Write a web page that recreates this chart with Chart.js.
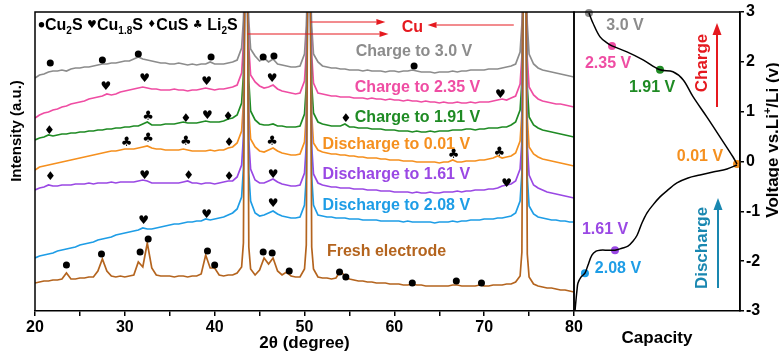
<!DOCTYPE html>
<html>
<head>
<meta charset="utf-8">
<script src="https://cdn.jsdelivr.net/npm/chart.js@4.4.1/dist/chart.umd.min.js"></script>
<style>
  html, body { margin: 0; padding: 0; background: #fff; }
  #wrap { position: relative; width: 779px; height: 356px; overflow: hidden; background: #fff; }
  #xrdChart { position: absolute; left: 0; top: 0; }
  #capChart { position: absolute; left: 564px; top: 0; }
</style>
</head>
<body>
<div id="wrap">
  <canvas id="xrdChart" width="600" height="356"></canvas>
  <canvas id="capChart" width="215" height="356"></canvas>
</div>
<script>
// ============================================================================
// Data
// ============================================================================

// 2θ sampling (degrees), shared by every XRD pattern
const twoTheta = [
    20, 20.5, 21, 21.5, 22, 22.5, 23, 23.5, 24, 24.5,
    25, 25.5, 26, 26.5, 27, 27.5, 28, 28.5, 29, 29.5,
    30, 30.5, 31, 31.5, 32, 32.5, 33, 33.5, 34, 34.5,
    35, 35.5, 36, 36.5, 37, 37.5, 38, 38.5, 39, 39.5,
    40, 40.5, 41, 41.5, 42, 42.5,
    43, 43.2, 43.35, 43.5, 43.65, 43.8,
    44, 44.5, 45, 45.5, 46, 46.5, 47, 47.5, 48, 48.5, 49, 49.5,
    50, 50.2, 50.35, 50.5, 50.65, 50.8,
    51, 51.5,
    52, 52.5, 53, 53.5, 54, 54.5, 55, 55.5, 56, 56.5,
    57, 57.5, 58, 58.5, 59, 59.5, 60, 60.5, 61, 61.5,
    62, 62.5, 63, 63.5, 64, 64.5, 65, 65.5, 66, 66.5,
    67, 67.5, 68, 68.5, 69, 69.5, 70, 70.5, 71, 71.5,
    72, 72.5, 73, 73.5,
    74, 74.2, 74.35, 74.5, 74.65, 74.8,
    75, 75.5, 76, 76.5, 77, 77.5, 78, 78.5, 79, 79.5, 80,
];

// Intensities (a.u., stacked offsets included), same order as twoTheta
const charge30V = [
    233, 236, 237, 239, 240, 240, 241, 240, 242, 243,
    243, 244, 244, 245, 246, 247, 247, 248, 248, 249,
    250, 250, 252, 254, 252, 251, 250, 249, 248, 248,
    247, 247, 248, 247, 246, 247, 246, 247, 247, 249,
    247, 247, 247, 248, 249, 251,
    263, 291, 330, 400, 330, 290,
    262, 255, 250, 253, 249, 252, 247, 246, 245, 244, 244, 245,
    257, 285, 330, 400, 330, 285,
    257, 249,
    245, 244, 243, 243, 242, 242, 241, 241, 241, 240,
    241, 240, 240, 240, 239, 240, 240, 239, 240, 240,
    241, 240, 239, 239, 239, 238, 239, 239, 239, 240,
    239, 240, 240, 241, 241, 241, 241, 242, 242, 242,
    243, 244, 245, 247,
    259, 287, 330, 400, 330, 287,
    257, 247, 243, 241, 240, 239, 238, 237, 236, 235, 234,
];
const charge235V = [
    193, 196, 198, 199, 201, 202, 204, 205, 207, 208,
    209, 210, 212, 213, 214, 215, 217, 216, 217, 219,
    220, 221, 222, 223, 224, 223, 222, 222, 221, 221,
    221, 222, 221, 221, 220, 221, 221, 222, 223, 222,
    221, 222, 222, 223, 224, 226,
    238, 266, 330, 400, 330, 264,
    236, 229, 225, 223, 224, 226, 222, 220, 219, 218, 217, 218,
    230, 258, 330, 400, 330, 256,
    228, 218,
    217, 216, 215, 215, 214, 214, 214, 213, 213, 213,
    212, 213, 212, 212, 211, 212, 211, 211, 210, 211,
    210, 210, 209, 210, 209, 209, 208, 209, 208, 208,
    209, 208, 208, 209, 208, 209, 209, 209, 210, 211,
    212, 211, 213, 215,
    227, 255, 330, 400, 330, 253,
    224, 216, 212, 210, 209, 208, 207, 207, 206, 205, 204,
];
const charge191V = [
    171, 173, 174, 176, 175, 176, 177, 177, 178, 178,
    179, 179, 180, 180, 181, 181, 182, 182, 183, 183,
    184, 184, 185, 185, 187, 189, 186, 186, 186, 187,
    187, 187, 188, 189, 188, 188, 188, 189, 190, 189,
    189, 189, 190, 192, 193, 196,
    208, 236, 330, 400, 330, 230,
    200, 191, 187, 186, 186, 187, 185, 185, 184, 184, 184, 185,
    197, 225, 330, 400, 330, 226,
    198, 189,
    187, 186, 185, 185, 185, 187, 184, 184, 183, 183,
    183, 182, 182, 182, 181, 181, 181, 180, 180, 180,
    179, 180, 179, 179, 180, 179, 180, 180, 180, 181,
    181, 181, 182, 182, 181, 182, 182, 183, 183, 183,
    184, 184, 186, 189,
    201, 229, 330, 400, 330, 224,
    194, 186, 183, 181, 180, 179, 178, 177, 176, 175, 174,
];
const discharge001V = [
    141, 144, 145, 146, 147, 148, 149, 150, 151, 152,
    153, 154, 155, 156, 157, 158, 159, 160, 160, 161,
    162, 162, 162, 163, 164, 165, 163, 162, 162, 161,
    161, 161, 161, 162, 161, 160, 160, 160, 160, 161,
    160, 161, 161, 163, 164, 168,
    180, 208, 330, 400, 330, 200,
    172, 164, 160, 159, 161, 163, 160, 158, 157, 156, 156, 157,
    169, 197, 330, 400, 330, 196,
    168, 161,
    159, 158, 157, 157, 156, 156, 155, 155, 154, 154,
    153, 153, 153, 152, 152, 151, 151, 151, 150, 150,
    150, 149, 149, 149, 149, 149, 148, 149, 149, 151,
    149, 149, 150, 150, 150, 151, 151, 152, 153, 155,
    153, 154, 155, 158,
    170, 198, 330, 400, 330, 193,
    164, 157, 154, 152, 151, 150, 149, 148, 147, 146, 145,
];
const discharge161V = [
    121, 123, 124, 126, 125, 125, 126, 126, 126, 127,
    127, 127, 128, 127, 128, 128, 128, 129, 128, 129,
    129, 129, 129, 130, 131, 130, 128, 128, 128, 128,
    128, 128, 128, 129, 130, 128, 128, 127, 128, 128,
    127, 128, 129, 130, 130, 134,
    146, 174, 330, 400, 330, 170,
    142, 131, 128, 128, 130, 132, 129, 127, 126, 125, 125, 126,
    138, 166, 330, 400, 330, 165,
    137, 128,
    126, 125, 124, 124, 123, 123, 123, 122, 122, 122,
    121, 121, 121, 120, 120, 120, 119, 119, 119, 119,
    118, 119, 118, 118, 119, 118, 118, 119, 119, 119,
    120, 119, 120, 120, 121, 121, 121, 122, 122, 123,
    125, 126, 127, 130,
    142, 170, 330, 400, 330, 166,
    136, 126, 123, 121, 119, 118, 117, 116, 115, 114, 113,
];
const discharge208V = [
    53, 55, 56, 57, 58, 60, 61, 62, 63, 64,
    66, 67, 68, 69, 71, 72, 73, 74, 76, 77,
    78, 79, 80, 81, 83, 82, 82, 83, 84, 85,
    86, 87, 87, 88, 89, 89, 90, 90, 92, 91,
    92, 93, 94, 96, 98, 102,
    114, 142, 330, 400, 330, 138,
    110, 98, 95, 96, 98, 100, 97, 95, 94, 93, 93, 94,
    106, 134, 330, 400, 330, 134,
    106, 96,
    95, 94, 94, 93, 93, 93, 92, 92, 92, 91,
    91, 91, 91, 90, 90, 90, 90, 90, 89, 90,
    89, 89, 89, 89, 89, 88, 89, 89, 89, 90,
    89, 90, 90, 91, 91, 91, 92, 92, 92, 93,
    93, 94, 95, 98,
    110, 138, 330, 400, 330, 134,
    105, 97, 94, 93, 92, 91, 91, 90, 90, 89, 89,
];
const freshElectrode = [
    28, 29, 30, 30, 31, 31, 32, 38, 32, 32,
    33, 33, 34, 34, 40, 52, 40, 35, 34, 35,
    34, 35, 36, 49, 44, 68, 43, 36, 35, 35,
    35, 34, 35, 35, 34, 35, 35, 37, 56, 43,
    43, 36, 35, 36, 36, 38,
    44, 68, 330, 400, 330, 64,
    42, 36, 41, 53, 47, 53, 40, 36, 39, 35, 34, 34,
    42, 66, 330, 400, 330, 64,
    42, 34,
    33, 33, 32, 33, 40, 35, 32, 31, 30, 30,
    29, 29, 28, 28, 28, 27, 27, 27, 26, 26,
    27, 26, 26, 25, 25, 25, 25, 25, 25, 26,
    26, 25, 25, 25, 25, 26, 25, 25, 26, 26,
    26, 27, 27, 29,
    35, 59, 330, 400, 330, 57,
    34, 27, 25, 24, 23, 23, 22, 21, 21, 20, 19,
];

// Phase markers: [2θ, height]
const cu2sMarks = [
    [21.7, 248], [27.5, 251], [31.5, 257], [39.6, 254], [45.4, 254], [46.6, 255], [62.2, 245],
    [23.5, 46], [27.4, 57], [31.7, 59], [32.6, 72], [39.2, 60], [40.0, 46], [45.4, 59],
    [46.4, 58], [48.3, 40], [53.9, 39], [54.6, 34], [62.0, 28], [66.9, 30], [69.7, 28],
];
const cu18sMarks = [
    [27.9, 224], [32.2, 232], [39.1, 229], [46.4, 232], [71.8, 216], [39.2, 195],
    [32.2, 135], [46.5, 136], [72.5, 127], [32.1, 90], [39.1, 96], [46.5, 107],
];
const cusMarks = [
    [21.6, 180], [36.8, 192], [41.5, 194], [54.6, 192], [41.6, 168],
    [21.7, 134], [37.1, 135], [41.6, 134],
];
const li2sMarks = [
    [32.6, 194], [30.2, 168], [32.6, 172], [36.8, 169], [46.4, 169], [66.6, 156], [71.7, 158],
];

// Voltage profile (capacity in arbitrary units 0-100)
const chargeCapacity = [9.0, 11.4, 15.7, 19.9, 22.9, 31.9, 41.6, 51.8, 59.6, 65.7, 71.7, 80.1, 88.0, 95.8, 98.2];
const chargeVoltage = [2.98, 2.78, 2.50, 2.38, 2.32, 2.20, 2.04, 1.84, 1.80, 1.64, 1.30, 0.89, 0.49, 0.09, -0.05];
const dischargeCapacity = [0.6, 1.2, 1.8, 2.4, 4.2, 6.6, 8.4, 10.8, 13.3, 15.7, 20.5, 24.7, 28.9, 32.5,
    35.5, 38.0, 41.0, 44.0, 47.6, 51.8, 56.6, 62.0, 68.7, 75.9, 83.7, 92.2, 98.2];
const dischargeVoltage = [-3.00, -2.78, -2.58, -2.44, -2.32, -2.24, -2.08, -1.88, -1.80, -1.78, -1.78, -1.78,
    -1.74, -1.70, -1.60, -1.48, -1.23, -1.03, -0.87, -0.71, -0.57, -0.43, -0.33, -0.27, -0.21, -0.15, -0.07];

// Sampled states on the voltage profile
const stateNames = ["3.0 V", "2.35 V", "1.91 V", "0.01 V", "1.61 V", "2.08 V"];
const stateCapacity = [9.0, 22.9, 51.8, 98.2, 24.7, 6.6];
const stateVoltage = [2.98, 2.32, 1.84, -0.05, -1.78, -2.24];

// ============================================================================
// Styles
// ============================================================================

const FONT = "'Liberation Sans', Arial, sans-serif";
const COLORS = {
    gray: "#8c8c8c",
    pink: "#ef4da3",
    green: "#1f8b24",
    orange: "#f5901f",
    purple: "#9a48e4",
    blue: "#1e9de6",
    brown: "#b4641e",
    red: "#e5191f",
    teal: "#1987b0",
};
const stateColors = [COLORS.gray, COLORS.pink, COLORS.green, COLORS.orange, COLORS.purple, COLORS.blue];

const XRD_SERIES = [
    { name: "Fresh electrode", values: freshElectrode, color: COLORS.brown },
    { name: "Discharge to 2.08 V", values: discharge208V, color: COLORS.blue },
    { name: "Discharge to 1.61 V", values: discharge161V, color: COLORS.purple },
    { name: "Discharge to 0.01 V", values: discharge001V, color: COLORS.orange },
    { name: "Charge to 1.91 V", values: charge191V, color: COLORS.green },
    { name: "Charge to 2.35 V", values: charge235V, color: COLORS.pink },
    { name: "Charge to 3.0 V", values: charge30V, color: COLORS.gray },
];

// Annotation anchors in data units
const CURVE_LABELS = [
    { text: "Charge to 3.0 V", color: COLORS.gray, at: [55.7, 259] },
    { text: "Charge to 2.35 V", color: COLORS.pink, at: [55.6, 223] },
    { text: "Charge to 1.91 V", color: COLORS.green, at: [55.6, 193] },
    { text: "Discharge to 0.01 V", color: COLORS.orange, at: [52.0, 166] },
    { text: "Discharge to 1.61 V", color: COLORS.purple, at: [52.0, 136] },
    { text: "Discharge to 2.08 V", color: COLORS.blue, at: [52.0, 105] },
    { text: "Fresh electrode", color: COLORS.brown, at: [52.5, 59] },
];
const CU_ARROWS = [
    [50.66, 289, 59.0, 289],
    [43.63, 277, 59.35, 277],
    [73.3, 286, 63.7, 286],
];
const STATE_LABEL_AT = [[30.7, 2.72], [20.5, 1.96], [47.0, 1.49], [75.9, 0.09], [18.7, -1.37], [26.5, -2.14]];

const SUIT_GLYPHS = { cu18s: "\u2665", cus: "\u2666", li2s: "\u2663" };

// ============================================================================
// Drawing helpers
// ============================================================================

function drawMark(ctx, kind, x, y, size) {
    ctx.fillStyle = "#000";
    if (kind === "cu2s") {
        ctx.beginPath();
        ctx.arc(x, y, size * 0.27, 0, Math.PI * 2);
        ctx.fill();
        return;
    }
    ctx.font = `${size}px 'DejaVu Sans'`;
    ctx.textAlign = "center";
    ctx.textBaseline = "middle";
    ctx.fillText(SUIT_GLYPHS[kind], x, y);
}

function drawArrow(ctx, x1, y1, x2, y2, color, width, headLen, headHalf) {
    const ang = Math.atan2(y2 - y1, x2 - x1);
    const bx = x2 - Math.cos(ang) * headLen;
    const by = y2 - Math.sin(ang) * headLen;
    ctx.save();
    ctx.strokeStyle = color;
    ctx.fillStyle = color;
    ctx.lineWidth = width;
    ctx.beginPath();
    ctx.moveTo(x1, y1);
    ctx.lineTo(bx, by);
    ctx.stroke();
    ctx.beginPath();
    ctx.moveTo(x2, y2);
    ctx.lineTo(bx - Math.sin(ang) * headHalf, by + Math.cos(ang) * headHalf);
    ctx.lineTo(bx + Math.sin(ang) * headHalf, by - Math.cos(ang) * headHalf);
    ctx.closePath();
    ctx.fill();
    ctx.restore();
}

// Draws text runs with sub/superscripts; returns the end x
function drawRuns(ctx, runs, x, y, size) {
    for (const r of runs) {
        if (r.mark) {
            drawMark(ctx, r.mark, x + r.w / 2, y - size * 0.33, r.size);
            x += r.w;
            continue;
        }
        const small = r.sub || r.sup;
        ctx.font = `bold ${small ? Math.round(size * 0.62) : size}px ${FONT}`;
        ctx.textAlign = "left";
        ctx.textBaseline = "alphabetic";
        const dy = r.sub ? size * 0.22 : r.sup ? -size * 0.42 : 0;
        ctx.fillText(r.t, x, y + dy);
        x += ctx.measureText(r.t).width;
    }
    return x;
}

function runsWidth(ctx, runs, size) {
    let w = 0;
    for (const r of runs) {
        if (r.mark) { w += r.w; continue; }
        const small = r.sub || r.sup;
        ctx.font = `bold ${small ? Math.round(size * 0.62) : size}px ${FONT}`;
        w += ctx.measureText(r.t).width;
    }
    return w;
}

const framePlugin = {
    id: "frame",
    afterDraw(chart) {
        const { ctx, chartArea: a } = chart;
        ctx.save();
        ctx.strokeStyle = "#000";
        ctx.lineWidth = 1.5;
        ctx.beginPath();
        ctx.moveTo(a.left, a.bottom);
        ctx.lineTo(a.left, a.top);
        ctx.lineTo(a.right, a.top);
        ctx.lineTo(a.right, a.bottom);
        ctx.stroke();
        ctx.restore();
    },
};

// ============================================================================
// Left panel: XRD patterns
// ============================================================================

const xrdAnnotations = {
    id: "xrdAnnotations",
    afterDraw(chart) {
        const { ctx } = chart;
        const xs = chart.scales.x;
        const ys = chart.scales.y;
        const px = (v) => xs.getPixelForValue(v);
        const py = (v) => ys.getPixelForValue(v);
        ctx.save();

        // phase markers
        for (const [a, h] of cu2sMarks) drawMark(ctx, "cu2s", px(a), py(h), 13);
        for (const [a, h] of cu18sMarks) drawMark(ctx, "cu18s", px(a), py(h), 12);
        for (const [a, h] of cusMarks) drawMark(ctx, "cus", px(a), py(h), 12);
        for (const [a, h] of li2sMarks) drawMark(ctx, "li2s", px(a), py(h), 13);

        // curve labels
        ctx.font = `bold 16px ${FONT}`;
        ctx.textAlign = "left";
        ctx.textBaseline = "middle";
        for (const l of CURVE_LABELS) {
            ctx.fillStyle = l.color;
            ctx.fillText(l.text, px(l.at[0]), py(l.at[1]));
        }

        // Cu reflections
        for (const [a1, h1, a2, h2] of CU_ARROWS) {
            drawArrow(ctx, px(a1), py(h1), px(a2), py(h2), COLORS.red, 1, 9, 3);
        }
        ctx.fillStyle = COLORS.red;
        ctx.font = `bold 16px ${FONT}`;
        ctx.textAlign = "center";
        ctx.textBaseline = "middle";
        ctx.fillText("Cu", px(62.0), py(283));

        // legend
        ctx.fillStyle = "#000";
        drawRuns(ctx, [
            { mark: "cu2s", w: 7, size: 10 }, { t: "Cu" }, { t: "2", sub: true }, { t: "S " },
            { mark: "cu18s", w: 10, size: 11 }, { t: "Cu" }, { t: "1.8", sub: true }, { t: "S " },
            { mark: "cus", w: 9, size: 10 }, { t: "CuS " },
            { mark: "li2s", w: 10, size: 11 }, { t: " Li" }, { t: "2", sub: true }, { t: "S" },
        ], 38, 30, 16);

        // y title
        ctx.translate(17, 131);
        ctx.rotate(-Math.PI / 2);
        ctx.fillStyle = "#000";
        ctx.font = `bold 15px ${FONT}`;
        ctx.textAlign = "center";
        ctx.textBaseline = "middle";
        ctx.fillText("Intensity (a.u.)", 0, 0);
        ctx.restore();
    },
};

new Chart(document.getElementById("xrdChart"), {
    type: "line",
    data: {
        datasets: XRD_SERIES.map((s) => ({
            label: s.name,
            data: twoTheta.map((t, i) => ({ x: t, y: s.values[i] })),
            borderColor: s.color,
            borderWidth: 1.7,
            pointRadius: 0,
            tension: 0,
        })),
    },
    options: {
        responsive: false,
        animation: false,
        events: [],
        layout: { padding: { left: 35, top: 12, right: 26, bottom: 0 } },
        plugins: { legend: { display: false }, tooltip: { enabled: false } },
        scales: {
            x: {
                type: "linear",
                min: 20,
                max: 80,
                afterFit(scale) { scale.height = 45; },
                grid: { display: true, drawOnChartArea: false, drawTicks: true, tickLength: 5, color: "#000", lineWidth: 1.5 },
                border: { display: true, color: "#000", width: 1.5 },
                ticks: {
                    stepSize: 5,
                    autoSkip: false,
                    maxRotation: 0,
                    padding: 2,
                    color: "#000",
                    font: { family: FONT, size: 16, weight: "bold" },
                    callback: (v) => (v % 10 === 0 ? v : ""),
                },
                title: {
                    display: true,
                    text: "2θ (degree)",
                    color: "#000",
                    font: { family: FONT, size: 17, weight: "bold" },
                    padding: { top: 0, bottom: 2 },
                },
            },
            y: { display: false, min: 0, max: 299 },
        },
    },
    plugins: [framePlugin, xrdAnnotations],
});

// ============================================================================
// Right panel: voltage profile
// ============================================================================

const capAnnotations = {
    id: "capAnnotations",
    afterDraw(chart) {
        const { ctx } = chart;
        const xs = chart.scales.x;
        const ys = chart.scales.y;
        ctx.save();

        ctx.font = `bold 16px ${FONT}`;
        ctx.textAlign = "center";
        ctx.textBaseline = "middle";
        stateNames.forEach((name, i) => {
            ctx.fillStyle = stateColors[i];
            ctx.fillText(name, xs.getPixelForValue(STATE_LABEL_AT[i][0]), ys.getPixelForValue(STATE_LABEL_AT[i][1]));
        });

        // direction arrows
        drawArrow(ctx, 153, 107, 153, 23, COLORS.red, 2, 12, 4.5);
        drawArrow(ctx, 154, 288, 154, 198, COLORS.teal, 2, 12, 4.5);
        const vtext = (t, x, y, color) => {
            ctx.save();
            ctx.translate(x, y);
            ctx.rotate(-Math.PI / 2);
            ctx.fillStyle = color;
            ctx.font = `bold 17px ${FONT}`;
            ctx.textAlign = "center";
            ctx.textBaseline = "middle";
            ctx.fillText(t, 0, 0);
            ctx.restore();
        };
        vtext("Charge", 138, 63, COLORS.red);
        vtext("Discharge", 138, 248, COLORS.teal);

        // y title with superscript
        const runs = [{ t: "Voltage vs.Li" }, { t: "+", sup: true }, { t: "/Li (v)" }];
        const w = runsWidth(ctx, runs, 17);
        ctx.translate(214, 140);
        ctx.rotate(-Math.PI / 2);
        ctx.fillStyle = "#000";
        drawRuns(ctx, runs, -w / 2, 0, 17);
        ctx.restore();
    },
};

new Chart(document.getElementById("capChart"), {
    type: "line",
    data: {
        datasets: [
            {
                label: "Charge",
                data: chargeCapacity.map((c, i) => ({ x: c, y: chargeVoltage[i] })),
                borderColor: "#000",
                borderWidth: 1.5,
                pointRadius: 0,
                tension: 0.35,
            },
            {
                label: "Discharge",
                data: dischargeCapacity.map((c, i) => ({ x: c, y: dischargeVoltage[i] })),
                borderColor: "#000",
                borderWidth: 1.5,
                pointRadius: 0,
                tension: 0.35,
            },
            {
                label: "States",
                data: stateCapacity.map((c, i) => ({ x: c, y: stateVoltage[i] })),
                showLine: false,
                pointRadius: 4,
                pointBorderWidth: 0,
                pointBackgroundColor: stateColors,
                clip: false,
            },
        ],
    },
    options: {
        responsive: false,
        animation: false,
        events: [],
        layout: { padding: { left: 10, top: 12, right: 0, bottom: 0 } },
        plugins: { legend: { display: false }, tooltip: { enabled: false } },
        scales: {
            x: {
                type: "linear",
                min: 0,
                max: 100,
                afterFit(scale) { scale.height = 45; },
                grid: { display: false },
                ticks: { display: false },
                border: { display: true, color: "#000", width: 1.5 },
                title: {
                    display: true,
                    text: "Capacity",
                    color: "#000",
                    font: { family: FONT, size: 17, weight: "bold" },
                    padding: { top: 0, bottom: 7 },
                },
            },
            y: {
                position: "right",
                min: -3,
                max: 3,
                afterFit(scale) { scale.width = 39; },
                grid: { display: true, drawOnChartArea: false, drawTicks: true, tickLength: 4, color: "#000", lineWidth: 1.5 },
                border: { display: true, color: "#000", width: 1.5 },
                ticks: {
                    stepSize: 1,
                    padding: 2,
                    color: "#000",
                    font: { family: FONT, size: 16, weight: "bold" },
                },
            },
        },
    },
    plugins: [framePlugin, capAnnotations],
});
</script>
</body>
</html>
